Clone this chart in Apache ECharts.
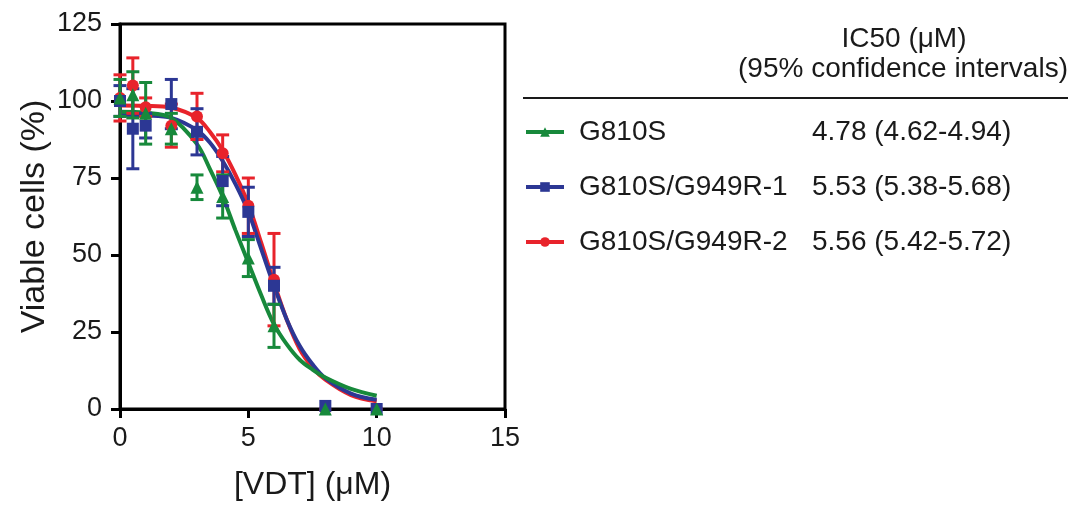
<!DOCTYPE html>
<html>
<head>
<meta charset="utf-8">
<script src="https://cdn.jsdelivr.net/npm/echarts@6/dist/echarts.min.js"></script>
<style>
html,body{margin:0;padding:0;background:#fff;}
#chart{width:1077px;height:508px;}
</style>
</head>
<body>
<div id="chart"></div>
<script>
// ---- data ----
const groupNames = ['G810S', 'G810S/G949R-1', 'G810S/G949R-2'];
const ic50Labels = ['4.78 (4.62-4.94)', '5.53 (5.38-5.68)', '5.56 (5.42-5.72)'];

const doseX = [0, 0.5, 1, 2, 3, 4, 5, 6, 8, 10];
const greenMean = [101, 102, 96, 91, 72, 69, 49, 27, 0, 0];
const greenErr  = [6, 7.5, 10, 5, 4, 7, 6, 7, 0, 0];
const blueMean  = [100, 91, 92, 99, 90, 74, 64, 40, 1, 0];
const blueErr   = [5, 13, 4, 8, 7.5, 8, 8, 6, 0, 0];
const redMean   = [101, 105, 98, 92, 95, 83, 66, 42, 0, 0];
const redErr    = [7.5, 9, 3, 7, 7.5, 6, 9, 15, 0, 0];

// fitted curves
const curveX     = [0, 1, 2, 3, 3.5, 4, 4.5, 5, 5.5, 6, 6.5, 7, 7.5, 8, 9, 10];
const greenCurve = [96.5, 96.2, 94.5, 86, 78, 69, 58, 47.5, 37, 27.5, 21, 16, 12.8, 10.2, 6.5, 4.3];
const blueCurve  = [95.5, 95.3, 94.5, 90.5, 86.5, 80.5, 73, 64, 52, 40, 29, 20.5, 14.5, 10, 5, 3];
const redCurve   = [98.5, 98.4, 97.8, 94.5, 90, 84, 76, 66.5, 54, 41, 29, 19.5, 13.5, 9.5, 4.5, 2.5];

const xTicks = [0, 5, 10, 15];
const yTicks = [0, 25, 50, 75, 100, 125];

const colors = ['#17893b', '#2c3794', '#e8232b'];
const symbols = ['triangle', 'rect', 'circle'];
const symbolSizes = [13, 12, 12];

const means = [greenMean, blueMean, redMean];
const errs = [greenErr, blueErr, redErr];
const curves = [greenCurve, blueCurve, redCurve];

const FONT = '"Liberation Sans", Arial, Helvetica, sans-serif';

function pairs(xs, ys) { return xs.map((x, i) => [x, ys[i]]); }

const series = [];
// order: red first (bottom), then blue, then green (top)
const drawOrder = [2, 1, 0];

drawOrder.forEach(function (g) {
  series.push({
    name: groupNames[g],
    type: 'line',
    smooth: 0.35,
    data: pairs(curveX, curves[g]),
    showSymbol: false,
    symbol: symbols[g],
    symbolSize: symbolSizes[g],
    itemStyle: { color: colors[g] },
    lineStyle: { color: colors[g], width: 4 },
    z: 3,
    silent: true
  });
});

drawOrder.forEach(function (g) {
  series.push({
    name: groupNames[g] + ' err',
    type: 'custom',
    data: doseX.map((x, i) => [x, means[g][i], errs[g][i]]),
    z: 4,
    silent: true,
    renderItem: function (params, api) {
      const x = api.value(0), m = api.value(1), e = api.value(2);
      if (!e) return null;
      const top = api.coord([x, m + e]);
      const bot = api.coord([x, m - e]);
      const hw = 6.5;
      const st = { stroke: colors[g], lineWidth: 3 };
      return {
        type: 'group',
        children: [
          { type: 'line', shape: { x1: top[0], y1: top[1], x2: bot[0], y2: bot[1] }, style: st },
          { type: 'line', shape: { x1: top[0] - hw, y1: top[1], x2: top[0] + hw, y2: top[1] }, style: st },
          { type: 'line', shape: { x1: bot[0] - hw, y1: bot[1], x2: bot[0] + hw, y2: bot[1] }, style: st }
        ]
      };
    }
  });
  series.push({
    name: groupNames[g] + ' pts',
    type: 'scatter',
    data: pairs(doseX, means[g]),
    symbol: symbols[g],
    symbolSize: symbolSizes[g],
    itemStyle: { color: colors[g], opacity: 1 },
    z: 5,
    silent: true
  });
});

const option = {
  animation: false,
  backgroundColor: '#fff',
  grid: {
    left: 120, right: 572, top: 24, bottom: 99,
    show: true, borderColor: '#000', borderWidth: 3, backgroundColor: 'transparent'
  },
  xAxis: {
    type: 'value',
    min: xTicks[0], max: xTicks[xTicks.length - 1], interval: 5,
    name: '[VDT] (\u03bcM)',
    nameLocation: 'middle',
    nameGap: 60,
    nameTextStyle: { fontFamily: FONT, fontSize: 32, color: '#1a1a1a' },
    axisLine: { show: true, onZero: false, lineStyle: { color: '#000', width: 3 } },
    axisTick: { show: true, length: 9, lineStyle: { color: '#000', width: 3 } },
    axisLabel: { margin: 16, fontFamily: FONT, fontSize: 27, color: '#1a1a1a' },
    splitLine: { show: false }
  },
  yAxis: {
    type: 'value',
    min: yTicks[0], max: yTicks[yTicks.length - 1], interval: 25,
    name: 'Viable cells (%)',
    nameLocation: 'middle',
    nameGap: 68,
    nameTextStyle: { fontFamily: FONT, fontSize: 34, color: '#1a1a1a' },
    axisLine: { show: true, onZero: false, lineStyle: { color: '#000', width: 3 } },
    axisTick: { show: true, length: 9, lineStyle: { color: '#000', width: 3 } },
    axisLabel: { margin: 18, fontFamily: FONT, fontSize: 27, color: '#1a1a1a' },
    splitLine: { show: false }
  },
  legend: {
    data: groupNames.slice(),
    orient: 'vertical',
    left: 519,
    top: 112,
    itemWidth: 38,
    itemHeight: 12,
    itemGap: 25,
    selectedMode: false,
    lineStyle: { width: 4 },
    formatter: function (name) {
      const i = groupNames.indexOf(name);
      return '{s|}{n|' + name + '}{v|' + ic50Labels[i] + '}';
    },
    textStyle: {
      fontFamily: FONT, fontSize: 28, color: '#1a1a1a', lineHeight: 30,
      rich: {
        s: { width: 10 },
        n: { width: 233, fontFamily: FONT, fontSize: 28, color: '#1a1a1a' },
        v: { fontFamily: FONT, fontSize: 28, color: '#1a1a1a' }
      }
    }
  },
  graphic: [
    {
      type: 'text', x: 904, y: 39,
      style: { text: 'IC50 (\u03bcM)', fontFamily: FONT, fontSize: 28, fill: '#1a1a1a', textAlign: 'center', textVerticalAlign: 'middle' }
    },
    {
      type: 'text', x: 903, y: 69,
      style: { text: '(95% confidence intervals)', fontFamily: FONT, fontSize: 28, fill: '#1a1a1a', textAlign: 'center', textVerticalAlign: 'middle' }
    },
    {
      type: 'line', shape: { x1: 523, y1: 98, x2: 1068, y2: 98 },
      style: { stroke: '#1a1a1a', lineWidth: 2 }
    }
  ],
  series: series
};

const chart = echarts.init(document.getElementById('chart'), null, { renderer: 'canvas' });
chart.setOption(option);
</script>
</body>
</html>
